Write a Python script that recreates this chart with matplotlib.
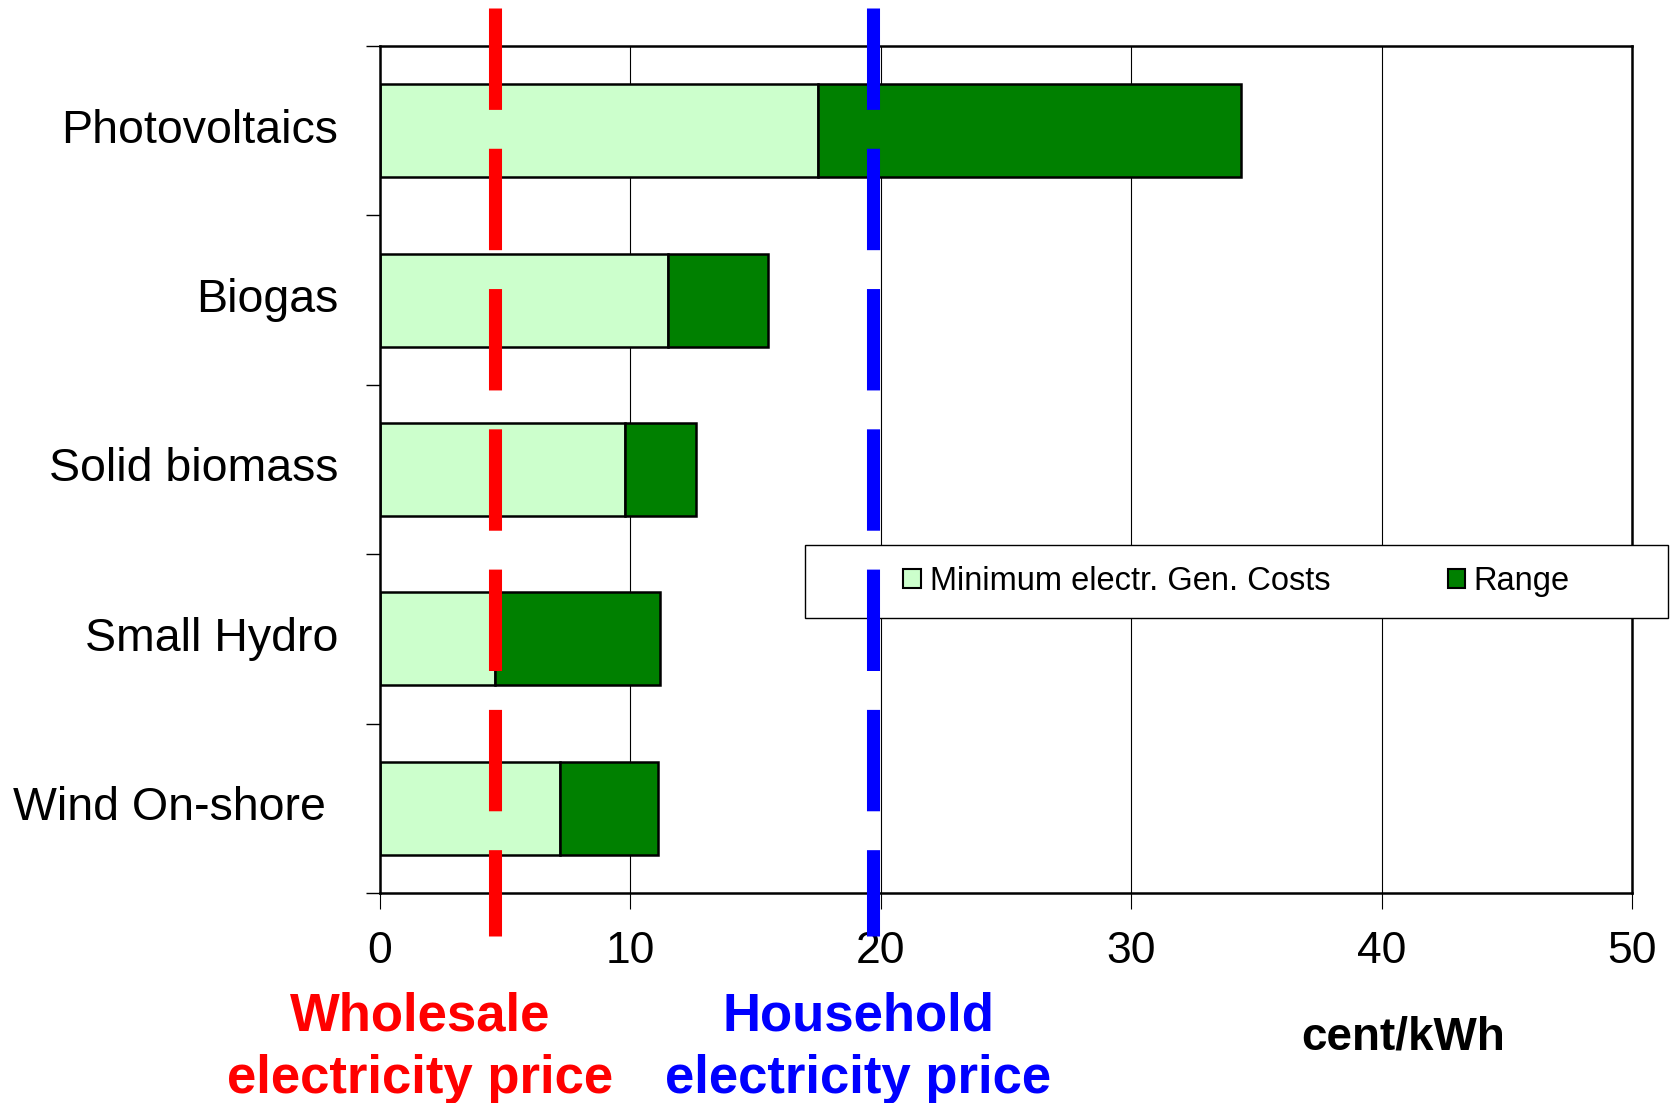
import matplotlib.pyplot as plt
from matplotlib.patches import Patch, Rectangle
import numpy as np

plt.rcParams['font.family'] = ['Liberation Sans', 'DejaVu Sans']
plt.rcParams['lines.scale_dashes'] = False

# data (cent/kWh)
technologies = ['Photovoltaics', 'Biogas', 'Solid biomass', 'Small Hydro', 'Wind On-shore ']
min_cost = [17.5, 11.5, 9.8, 4.6, 7.2]
max_cost = [34.4, 15.5, 12.6, 11.2, 11.1]
wholesale_price = 4.6
household_price = 19.7
x_ticks = [0, 10, 20, 30, 40, 50]
legend_labels = ['Minimum electr. Gen. Costs', 'Range']

light_green = '#CCFFCC'
dark_green = '#008000'

fig = plt.figure(figsize=(16.71, 11.03), dpi=100)
ax = fig.add_axes([0.2274, 0.1904, 0.7493, 0.7679])

y = np.arange(len(technologies))
spread = np.array(max_cost) - np.array(min_cost)
ax.barh(y, min_cost, height=0.55, color=light_green, edgecolor='black', linewidth=1.8, zorder=2)
ax.barh(y, spread, left=min_cost, height=0.55, color=dark_green, edgecolor='black', linewidth=1.8, zorder=2)

ax.set_xlim(0, 50)
ax.set_ylim(len(technologies) - 0.5, -0.5)

# y axis: labels at bar centres, tick marks between categories
ax.set_yticks(y)
ax.set_yticklabels(technologies, fontsize=33.5, va='center')
ax.set_yticks(np.arange(len(technologies) + 1) - 0.5, minor=True)
ax.tick_params(axis='y', which='major', length=0, pad=30)
ax.tick_params(axis='y', which='minor', length=10, width=1)

ax.set_xticks(x_ticks)
ax.tick_params(axis='x', length=11.5, width=0.8, pad=16, labelsize=32)
ax.xaxis.grid(True, color='black', linewidth=0.8)
ax.set_axisbelow(True)
for s in ax.spines.values():
    s.set_linewidth(1.8)

# price lines running past the frame
trans = ax.get_xaxis_transform()
for xv, col in [(wholesale_price, 'red'), (household_price, 'blue')]:
    ax.plot([xv, xv], [1.045, -0.051], transform=trans, color=col, lw=9.4,
            linestyle=(0, (73, 28)), dash_capstyle='butt', clip_on=False, zorder=6)

# legend box
box = Rectangle((0.3395, 0.3247), 0.6893, 0.0863, transform=ax.transAxes,
                facecolor='white', edgecolor='black', linewidth=1, clip_on=False, zorder=4)
ax.add_patch(box)
handles = [Patch(facecolor=light_green, edgecolor='black', linewidth=1.5),
           Patch(facecolor=dark_green, edgecolor='black', linewidth=1.5)]
leg = ax.legend(handles, legend_labels, loc='center',
                bbox_to_anchor=(0.3395 + 0.6893 / 2, 0.3247 + 0.0863 / 2),
                ncol=2, frameon=False, fontsize=23.5, handlelength=0.55, handleheight=0.55,
                handletextpad=0.25, columnspacing=3.6, borderpad=0, borderaxespad=0)
leg.set_zorder(5)

ax.text(0.032, -0.116, 'Wholesale\nelectricity price', transform=ax.transAxes, ha='center', va='top',
        color='red', fontsize=38, fontweight='bold', linespacing=1.33)
ax.text(0.382, -0.116, 'Household\nelectricity price', transform=ax.transAxes, ha='center', va='top',
        color='blue', fontsize=38, fontweight='bold', linespacing=1.33)
ax.text(0.817, -0.145, 'cent/kWh', transform=ax.transAxes, ha='center', va='top',
        color='black', fontsize=33, fontweight='bold')

fig.savefig('out.png', dpi=100)
